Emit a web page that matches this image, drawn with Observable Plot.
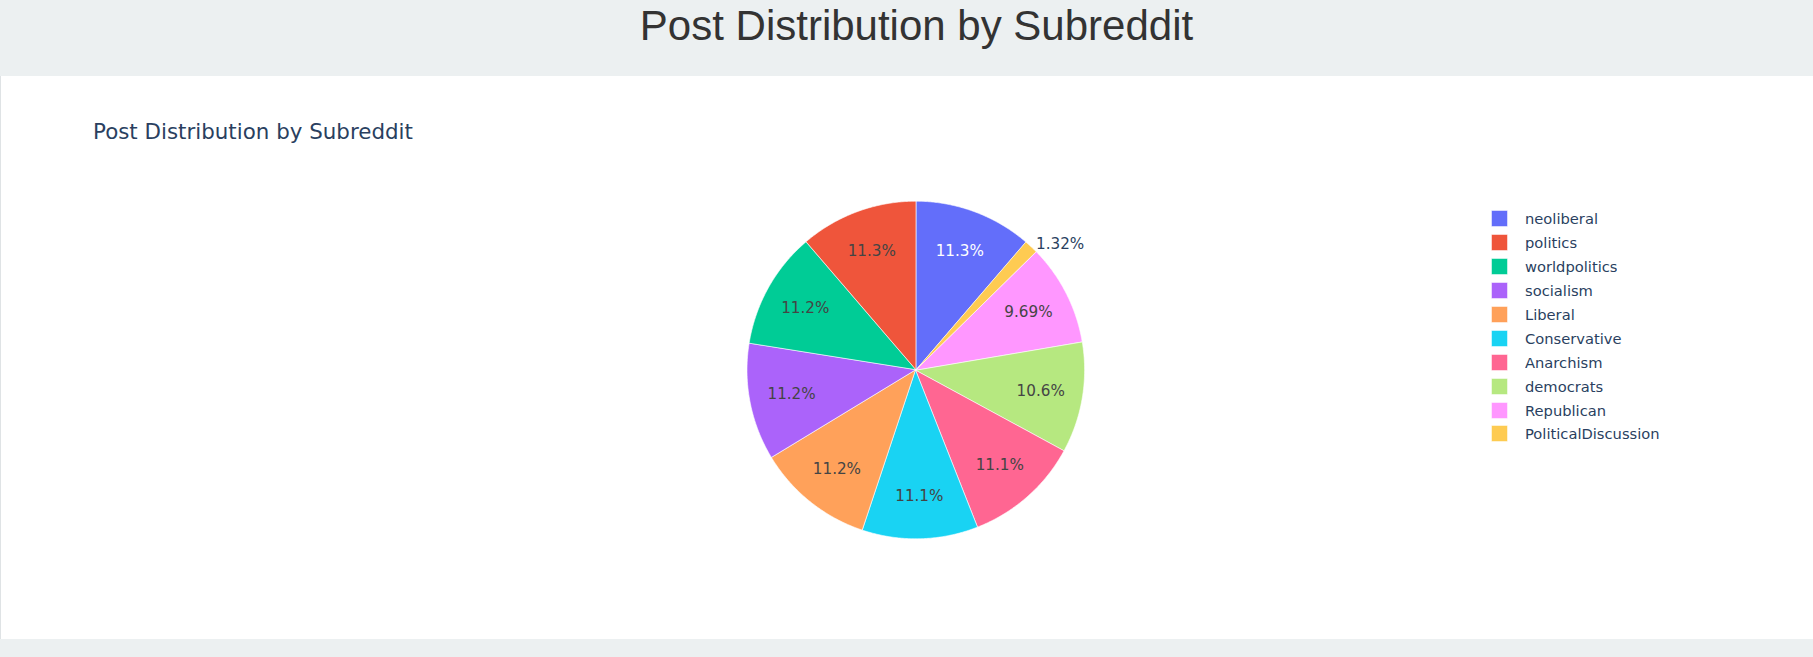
<!DOCTYPE html>
<html>
<head>
<meta charset="utf-8">
<script src="https://cdn.jsdelivr.net/npm/d3@7"></script>
<script src="https://cdn.jsdelivr.net/npm/@observablehq/plot@0.6"></script>
<style>
  html, body { margin: 0; padding: 0; }
  body { width: 1813px; height: 657px; background: #ecf0f1; position: relative; overflow: hidden; }
  #title { position: absolute; left: 0; top: 5px; width: 1833px; text-align: center; font-family: "Liberation Sans", Arial, sans-serif; font-size: 42px; line-height: 1; color: #333; margin: 0; font-weight: normal; }
  #card { position: absolute; left: 0; top: 76px; width: 1812px; height: 563px; background: #fff; border-left: 1px solid #dfe3e5; }
  #subtitle { position: absolute; left: 92px; top: 45px; font-family: "DejaVu Sans", Verdana, sans-serif; font-size: 21.4px; line-height: 1; color: #2a3f5f; white-space: nowrap; }
  #chart { position: absolute; left: -1px; top: 0; }
  #legend { position: absolute; left: 1491px; top: 131px; }
  .lg-swatches { font-family: "DejaVu Sans", Verdana, sans-serif !important; font-size: 14.7px !important; color: #2a3f5f !important; }
  .lg-swatch { height: 23.9px !important; padding: 0 !important; margin: 0 !important; display: flex !important; align-items: center !important; }
  .lg-swatch > svg { margin-right: 18px !important; }
  .lg-swatch rect { stroke-width: 1px; stroke-opacity: 0.5; }
</style>
</head>
<body>
<h1 id="title">Post Distribution by Subreddit</h1>
<div id="card">
  <div id="subtitle">Post Distribution by Subreddit</div>
  <div id="chart"></div>
  <div id="legend"></div>
</div>
<script>
// ---- data ----
const subreddits = ["neoliberal", "politics", "worldpolitics", "socialism", "Liberal", "Conservative", "Anarchism", "democrats", "Republican", "PoliticalDiscussion"];
const shares = [11.3, 11.3, 11.2, 11.2, 11.2, 11.1, 11.1, 10.6, 9.69, 1.32];
const colors = ["#636efa", "#EF553B", "#00cc96", "#ab63fa", "#FFA15A", "#19d3f3", "#FF6692", "#B6E880", "#FF97FF", "#FECB52"];
const whiteLabelSlices = ["neoliberal"];

// ---- geometry built from data (angles clockwise from 12 o'clock) ----
const total = d3.sum(shares);
const slices = [];
let end = shares[0] / total * 2 * Math.PI; // first slice ends here, sequence runs counterclockwise
subreddits.forEach((name, i) => {
  const span = shares[i] / total * 2 * Math.PI;
  const a1 = end, a0 = end - span;
  slices.push({name, a0, a1, mid: (a0 + a1) / 2, pct: shares[i] / total * 100});
  end = a0;
});
const polyPoints = [];
for (const s of slices) {
  polyPoints.push({name: s.name, x: 0, y: 0});
  const n = Math.max(2, Math.ceil((s.a1 - s.a0) / (Math.PI / 360)));
  for (let k = 0; k <= n; k++) {
    const a = s.a0 + (s.a1 - s.a0) * k / n;
    polyPoints.push({name: s.name, x: Math.sin(a), y: Math.cos(a)});
  }
}
const fmt = d3.format(".3r");
const labels = slices.map(s => {
  const inside = s.pct >= 5;
  const r = inside ? 0.75 : 1.0;
  return {name: s.name, inside, text: fmt(s.pct) + "%", x: r * Math.sin(s.mid), y: r * Math.cos(s.mid)};
});

// ---- layout ----
const cx = 915.3, cy = 293.5, R = 168.8;

const chart = Plot.plot({
  width: 1813,
  height: 563,
  margin: 0,
  style: {background: "transparent"},
  x: {domain: [-1, 1], range: [cx - R, cx + R], axis: null},
  y: {domain: [-1, 1], range: [cy + R, cy - R], axis: null},
  color: {domain: subreddits, range: colors},
  marks: [
    Plot.line(polyPoints, {x: "x", y: "y", z: "name", fill: "name", stroke: "white", strokeWidth: 0.6, curve: "linear-closed"}),
    Plot.text(labels.filter(d => d.inside && whiteLabelSlices.includes(d.name)), {x: "x", y: "y", text: "text", fill: "white", fontSize: 15.2, fontFamily: "DejaVu Sans, Verdana, sans-serif"}),
    Plot.text(labels.filter(d => d.inside && !whiteLabelSlices.includes(d.name)), {x: "x", y: "y", text: "text", fill: "#444", fontSize: 15.2, fontFamily: "DejaVu Sans, Verdana, sans-serif"}),
    Plot.text(labels.filter(d => !d.inside), {x: "x", y: "y", text: "text", fill: "#2a3f5f", textAnchor: "start", dx: 5, dy: -3, fontSize: 15.2, fontFamily: "DejaVu Sans, Verdana, sans-serif"})
  ]
});
document.getElementById("chart").appendChild(chart);

const legend = Plot.legend({
  color: {domain: subreddits, range: colors},
  legend: "swatches",
  columns: 1,
  swatchSize: 15,
  className: "lg"
});
legend.querySelectorAll("rect").forEach(r => r.setAttribute("stroke", r.closest("svg").getAttribute("fill") || "currentColor"));
document.getElementById("legend").appendChild(legend);
</script>
</body>
</html>
